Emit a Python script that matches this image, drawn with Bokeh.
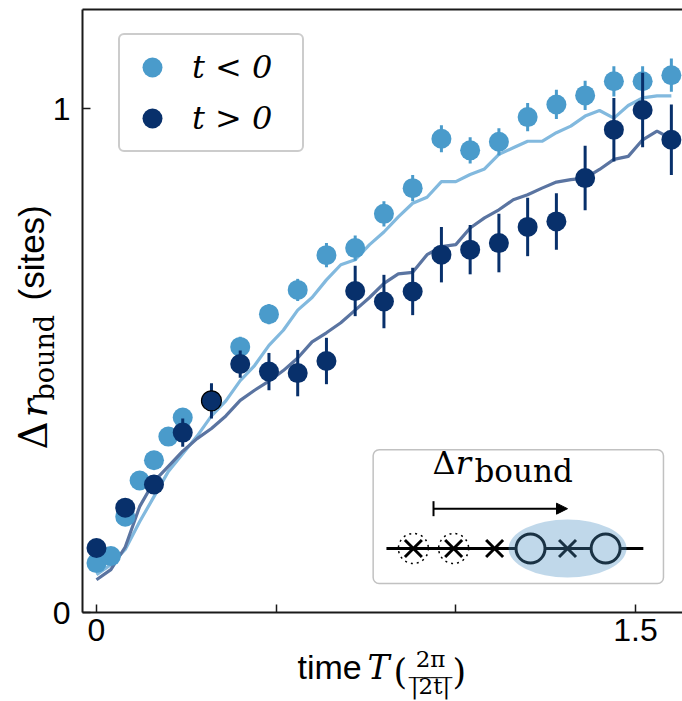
from bokeh.plotting import figure
from bokeh.models import (ColumnDataSource, Range1d, FixedTicker, Legend, LegendItem, LinearAxis,
                          Label, BoxAnnotation, Arrow, NormalHead, TeeHead, CustomJSTickFormatter)
from bokeh.embed import file_html
from bokeh.resources import INLINE
import math

# ---------------- data ----------------
# simulation curves
sim_t = [0.00, 0.04, 0.08, 0.12, 0.16, 0.20, 0.24, 0.28, 0.32, 0.36, 0.40, 0.44, 0.48, 0.52,
         0.56, 0.60, 0.64, 0.68, 0.72, 0.76, 0.80, 0.84, 0.88, 0.92, 0.96, 1.00, 1.04, 1.08,
         1.12, 1.16, 1.20, 1.24, 1.28, 1.32, 1.36, 1.40, 1.44, 1.48, 1.52, 1.56, 1.60]
sim_neg = [0.075, 0.095, 0.125, 0.18, 0.23, 0.28, 0.315, 0.35, 0.39, 0.42, 0.46, 0.49, 0.53, 0.56,
           0.60, 0.625, 0.66, 0.69, 0.70, 0.73, 0.755, 0.785, 0.812, 0.824, 0.855, 0.855, 0.869, 0.88,
           0.909, 0.922, 0.935, 0.935, 0.952, 0.965, 0.985, 0.996, 0.981, 1.006, 1.021, 1.025, 1.025]
sim_pos = [0.065, 0.085, 0.13, 0.21, 0.26, 0.29, 0.32, 0.345, 0.365, 0.39, 0.421, 0.441, 0.459, 0.48,
           0.505, 0.537, 0.555, 0.575, 0.60, 0.625, 0.653, 0.672, 0.675, 0.71, 0.726, 0.73, 0.763, 0.783,
           0.799, 0.819, 0.829, 0.842, 0.854, 0.859, 0.862, 0.879, 0.899, 0.905, 0.938, 0.955, 0.94]

# measured points, t < 0
neg_t = [0.00, 0.04, 0.08, 0.12, 0.16, 0.20, 0.24, 0.32, 0.40, 0.48, 0.56, 0.64, 0.72, 0.80,
         0.88, 0.96, 1.04, 1.12, 1.20, 1.28, 1.36, 1.44, 1.52, 1.60]
neg_y = [0.098, 0.112, 0.19, 0.262, 0.302, 0.349, 0.387, 0.42, 0.527, 0.592, 0.64, 0.709, 0.723, 0.791,
         0.842, 0.94, 0.917, 0.934, 0.983, 1.008, 1.026, 1.054, 1.054, 1.066]
neg_err = [0.010, 0.010, 0.012, 0.012, 0.014, 0.015, 0.016, 0.018, 0.020, 0.020, 0.022, 0.024, 0.025, 0.025,
           0.026, 0.027, 0.026, 0.027, 0.028, 0.029, 0.029, 0.030, 0.030, 0.033]

# measured points, t > 0
pos_t = [0.00, 0.08, 0.16, 0.24, 0.32, 0.40, 0.48, 0.56, 0.64, 0.72, 0.80, 0.88, 0.96, 1.04,
         1.12, 1.20, 1.28, 1.36, 1.44, 1.52, 1.60]
pos_y = [0.128, 0.208, 0.254, 0.357, 0.42, 0.493, 0.478, 0.475, 0.499, 0.638, 0.617, 0.637, 0.71, 0.72,
         0.733, 0.765, 0.776, 0.862, 0.958, 0.997, 0.938]
pos_err = [0.010, 0.012, 0.015, 0.028, 0.035, 0.027, 0.037, 0.046, 0.046, 0.050, 0.053, 0.047, 0.055, 0.049,
           0.058, 0.058, 0.056, 0.064, 0.063, 0.074, 0.070]

labels = ["t < 0", "t > 0"]
x_ticks = [0, 0.5, 1.0, 1.5]
y_ticks = [0, 1]

# ---------------- style / layout ----------------
LIGHT = "#4a9bcb"
DARK = "#08306b"
LIGHT_LINE = "#82b9de"
DARK_LINE = "#5a74a1"
AXC = "#1a1a1a"
W, H = 682, 700

X_VIEW = (-0.2672, 1.631)     # whole canvas
Y_VIEW = (-0.1746, 1.2143)
X_AXES = (-0.039, 1.631)      # drawn axes box
Y_AXES = (0.0, 1.1964)

p = figure(width=W, height=H, output_backend="svg", toolbar_location=None,
           x_range=Range1d(*X_VIEW), y_range=Range1d(*Y_VIEW),
           x_axis_location=None, y_axis_location=None,
           min_border=0, min_border_left=0, min_border_right=0, min_border_top=0, min_border_bottom=0)
p.outline_line_color = None
p.grid.visible = False
p.background_fill_color = "white"
p.border_fill_color = "white"

xa = LinearAxis(fixed_location=Y_AXES[0], bounds=X_AXES, ticker=FixedTicker(ticks=x_ticks),
                formatter=CustomJSTickFormatter(code="return (tick == 0 || tick == 1.5) ? String(tick) : '';"))
ya = LinearAxis(fixed_location=X_AXES[0], bounds=Y_AXES, ticker=FixedTicker(ticks=y_ticks))
ta = LinearAxis(fixed_location=Y_AXES[1], bounds=X_AXES, ticker=FixedTicker(ticks=[]),
                major_tick_line_color=None, minor_tick_line_color=None,
                major_label_text_font_size="0px")
for ax in (xa, ya, ta):
    ax.axis_line_color = AXC
    ax.axis_line_width = 2
    ax.major_tick_in = 8
    ax.major_tick_out = 0
    ax.minor_tick_line_color = None
for ax in (xa, ya):
    ax.major_tick_line_color = AXC
    ax.major_tick_line_width = 1.5
    ax.major_label_text_font = "Liberation Sans"
    ax.major_label_text_font_size = "32px"
    ax.major_label_text_color = "black"
xa.major_label_standoff = 6
ya.major_label_standoff = 12
p.add_layout(xa, "below")
p.add_layout(ya, "left")
p.add_layout(ta, "above")

# simulation lines
p.line(sim_t, sim_neg, line_color=LIGHT_LINE, line_width=3.2)
p.line(sim_t, sim_pos, line_color=DARK_LINE, line_width=3.2)

neg_src = ColumnDataSource(dict(t=neg_t, y=neg_y,
                                lo=[a - b for a, b in zip(neg_y, neg_err)],
                                hi=[a + b for a, b in zip(neg_y, neg_err)]))
pos_src = ColumnDataSource(dict(t=pos_t, y=pos_y,
                                lo=[a - b for a, b in zip(pos_y, pos_err)],
                                hi=[a + b for a, b in zip(pos_y, pos_err)]))

p.segment(x0="t", y0="lo", x1="t", y1="hi", source=neg_src, line_color=LIGHT, line_width=3)
r_neg = p.scatter("t", "y", source=neg_src, size=20, fill_color=LIGHT, line_color=None)
p.segment(x0="t", y0="lo", x1="t", y1="hi", source=pos_src, line_color=DARK, line_width=3)
r_pos = p.scatter("t", "y", source=pos_src, size=20, fill_color=DARK, line_color=None)
p.scatter(x=[pos_t[4]], y=[pos_y[4]], size=20, fill_color=None, line_color="black", line_width=1.2)

leg_kw = dict(padding=7, spacing=1, glyph_width=50, glyph_height=50, label_standoff=15,
              label_width=103, label_height=40, margin=0,
              label_text_font="DejaVu Serif", label_text_font_style="italic",
              label_text_font_size="32px", label_text_color="black",
              border_line_color="#cccccc", border_line_width=2, border_line_alpha=1,
              background_fill_color="white", background_fill_alpha=0.8)
if "border_radius" in Legend.properties():
    leg_kw["border_radius"] = 6
legend = Legend(items=[LegendItem(label=labels[0], renderers=[r_neg]),
                       LegendItem(label=labels[1], renderers=[r_pos])],
                location=(118, H - 152), **leg_kw)
p.add_layout(legend)

# ---------------- axis labels (composed pieces; px = canvas px from top-left, at the baseline) ----------------
def lab(text, px, py, size, font="DejaVu Serif", style="normal", angle=0.0, align="left"):
    # anchor on the middle of the em box: shift from the baseline by ~0.36 em
    d = 0.36 * size
    if angle:
        px = px - d
    else:
        py = py - d
    p.add_layout(Label(x=px, y=H - py, x_units="screen", y_units="screen", text=text,
                       text_font=font, text_font_style=style, text_font_size=f"{size}px",
                       text_color="black", angle=angle, text_align=align, text_baseline="middle"))

V = math.pi / 2
lab("Δ", 47, 449, 39, angle=V)
lab("r", 47, 417, 38, style="italic", angle=V)
lab("bound", 54, 400, 27, angle=V)
lab("(sites)", 44, 300, 35, font="Liberation Sans", angle=V)

lab("time", 297, 679, 34, font="Liberation Sans")
lab("T", 367, 679, 33, style="italic")
lab("(", 393, 684, 35)
lab("2π", 430, 667, 23, align="center")
lab("──────", 430, 682, 12, font="DejaVu Sans", align="center")
lab("|2t|", 430, 694, 23, align="center")
lab(")", 452, 684, 35)

# ---------------- inset schematic (layout positions in data units) ----------------
p.add_layout(BoxAnnotation(left=0.770, right=1.578, bottom=0.0575, top=0.323,
                           fill_color="white", fill_alpha=1, line_color="#333333",
                           line_width=1.5, border_radius=6, level="underlay"))
p.add_layout(Label(x=0.935, y=0.258, text="Δ", text_font="DejaVu Serif", text_font_size="32px",
                   text_color="black"))
p.add_layout(Label(x=1.000, y=0.258, text="r", text_font="DejaVu Serif", text_font_style="italic",
                   text_font_size="32px", text_color="black"))
p.add_layout(Label(x=1.052, y=0.246, text="bound", text_font="DejaVu Serif", text_font_size="31px",
                   text_color="black"))
p.add_layout(Arrow(x_start=0.938, y_start=0.206, x_end=1.311, y_end=0.206, line_width=2, line_color="black",
                   start=TeeHead(size=15, line_width=2, line_color="black"),
                   end=NormalHead(size=11, fill_color="black", line_color="black")))
p.line([0.807, 1.522], [0.127, 0.127], line_color="black", line_width=3)
p.scatter(x=[0.882, 0.994], y=[0.127, 0.127], size=30, fill_color=None, line_color="black",
          line_width=1.5, line_dash="dotted")
p.scatter(x=[0.882, 0.994, 1.108, 1.311], y=[0.127] * 4, marker="x", size=24, line_color="black",
          line_width=3)
p.scatter(x=[1.208, 1.417], y=[0.127, 0.127], size=29, fill_color="white", line_color="black",
          line_width=3)
p.ellipse(x=[1.311], y=[0.127], width=118, height=58, width_units="screen", height_units="screen",
          fill_color="#4a90c2", fill_alpha=0.35, line_color=None)

open("out.html", "w").write(file_html(p, INLINE))
